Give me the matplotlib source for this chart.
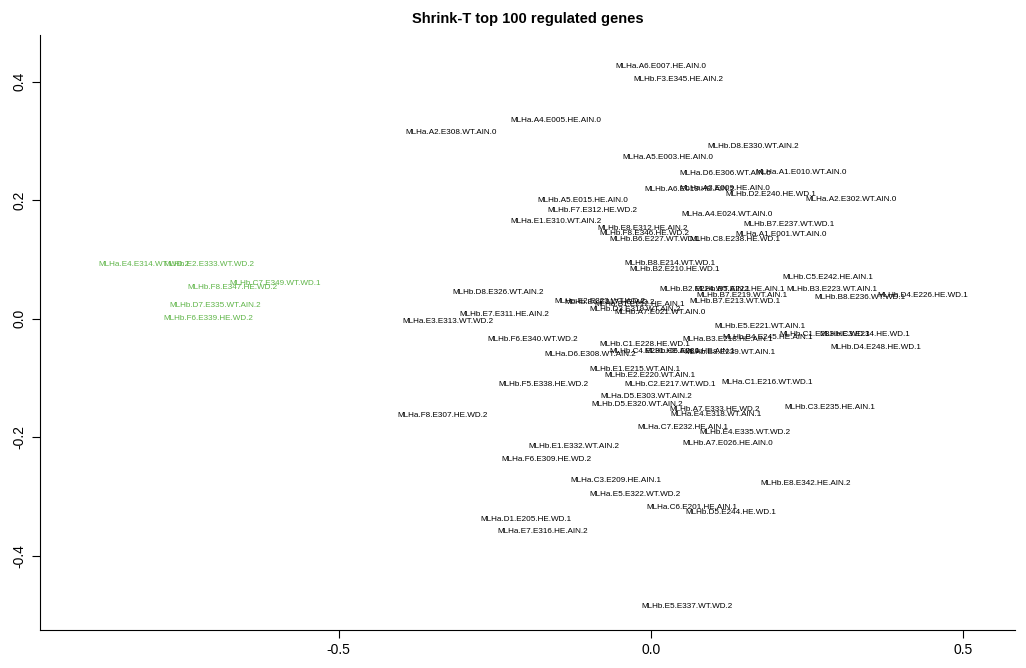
import matplotlib
matplotlib.use("Agg")
import matplotlib.pyplot as plt

plt.rcParams['font.family'] = ['Liberation Sans', 'DejaVu Sans']
plt.rcParams['axes.unicode_minus'] = False

# Gene labels and their positions (black = main cluster)
genes = [
    "MLHa.A6.E007.HE.AIN.0", "MLHb.F3.E345.HE.AIN.2", "MLHa.A4.E005.HE.AIN.0", "MLHa.A2.E308.WT.AIN.0",
    "MLHb.D8.E330.WT.AIN.2", "MLHa.A5.E003.HE.AIN.0", "MLHa.D6.E306.WT.AIN.0", "MLHa.A1.E010.WT.AIN.0",
    "MLHb.A6.E019.HE.AIN.2", "MLHa.A3.E009.HE.AIN.0", "MLHb.D2.E240.HE.WD.1", "MLHa.A2.E302.WT.AIN.0",
    "MLHb.A5.E015.HE.AIN.0", "MLHb.F7.E312.HE.WD.2", "MLHa.A4.E024.WT.AIN.0", "MLHa.E1.E310.WT.AIN.2",
    "MLHb.B7.E237.WT.WD.1", "MLHb.E8.E312.HE.AIN.2", "MLHb.F8.E346.HE.WD.2", "MLHa.A1.E001.WT.AIN.0",
    "MLHb.B6.E227.WT.WD.1", "MLHb.C8.E238.HE.WD.1", "MLHb.B8.E214.WT.WD.1", "MLHb.B2.E210.HE.WD.1",
    "MLHb.C5.E242.HE.AIN.1", "MLHb.B2.E224.WT.AIN.1", "MLHb.B5.E222.HE.AIN.1", "MLHb.B3.E223.WT.AIN.1",
    "MLHb.D4.E226.HE.WD.1", "MLHb.B8.E236.WT.WD.1", "MLHb.D8.E326.WT.AIN.2", "MLHb.B7.E219.WT.AIN.1",
    "MLHb.B7.E213.WT.WD.1", "MLHa.E2.E323.WT.WD.2", "MLHb.E6.E317.HE.WD.2", "MLHa.B1.E212.HE.AIN.1",
    "MLHb.D3.E319.WT.AIN.2", "MLHb.E7.E311.HE.AIN.2", "MLHa.E3.E313.WT.WD.2", "MLHb.A7.E021.WT.AIN.0",
    "MLHb.E5.E221.WT.AIN.1", "MLHb.C1.E233.HE.WD.1", "MLHb.C3.E234.HE.WD.1", "MLHa.B3.E218.HE.AIN.1",
    "MLHb.B4.E245.HE.AIN.1", "MLHb.D4.E248.HE.WD.1", "MLHb.F6.E340.WT.WD.2", "MLHb.C1.E228.HE.WD.1",
    "MLHa.D6.E308.WT.AIN.2", "MLHb.C4.E231.HE.AIN.1", "MLHb.B8.E239.WT.AIN.1", "MLHb.C6.E230.HE.AIN.1",
    "MLHb.E1.E215.WT.AIN.1", "MLHb.E2.E220.WT.AIN.1", "MLHb.C2.E217.WT.WD.1", "MLHa.C1.E216.WT.WD.1",
    "MLHb.F5.E338.HE.WD.2", "MLHa.D5.E303.WT.AIN.2", "MLHb.D5.E320.WT.AIN.2", "MLHb.A7.E333.HE.WD.2",
    "MLHa.E4.E318.WT.AIN.1", "MLHb.C3.E235.HE.AIN.1", "MLHa.F8.E307.HE.WD.2", "MLHa.C7.E232.HE.AIN.1",
    "MLHb.E4.E335.WT.WD.2", "MLHb.E1.E332.WT.AIN.2", "MLHb.A7.E026.HE.AIN.0", "MLHa.F6.E309.HE.WD.2",
    "MLHa.C3.E209.HE.AIN.1", "MLHb.E8.E342.HE.AIN.2", "MLHa.E5.E322.WT.WD.2", "MLHa.C6.E201.HE.AIN.1",
    "MLHb.D5.E244.HE.WD.1", "MLHa.D1.E205.HE.WD.1", "MLHa.E7.E316.HE.AIN.2", "MLHb.E5.E337.WT.WD.2",
]
gx = [0.016, 0.043, -0.152, -0.320, 0.163, 0.027, 0.118, 0.240,
      0.062, 0.118, 0.192, 0.320, -0.110, -0.094, 0.122, -0.152,
      0.221, -0.014, -0.010, 0.208, 0.006, 0.134, 0.030, 0.037,
      0.283, 0.086, 0.142, 0.290, 0.435, 0.334, -0.245, 0.146,
      0.134, -0.082, -0.066, -0.018, -0.026, -0.235, -0.325, 0.014,
      0.174, 0.278, 0.342, 0.123, 0.187, 0.360, -0.190, -0.010,
      -0.098, 0.006, 0.126, 0.062, -0.026, -0.002, 0.030, 0.186,
      -0.173, -0.008, -0.022, 0.102, 0.104, 0.286, -0.334, 0.051,
      0.150, -0.123, 0.123, -0.168, -0.056, 0.248, -0.026, 0.066,
      0.128, -0.200, -0.174, 0.058]
gy = [0.425, 0.403, 0.334, 0.314, 0.290, 0.272, 0.245, 0.246,
      0.218, 0.219, 0.209, 0.201, 0.199, 0.182, 0.176, 0.164,
      0.159, 0.152, 0.143, 0.142, 0.133, 0.133, 0.093, 0.083,
      0.069, 0.049, 0.049, 0.049, 0.039, 0.035, 0.044, 0.039,
      0.029, 0.029, 0.027, 0.024, 0.015, 0.007, -0.005, 0.010,
      -0.014, -0.027, -0.027, -0.035, -0.032, -0.049, -0.035, -0.044,
      -0.061, -0.056, -0.057, -0.056, -0.086, -0.096, -0.111, -0.108,
      -0.111, -0.132, -0.145, -0.154, -0.162, -0.150, -0.164, -0.184,
      -0.192, -0.216, -0.211, -0.238, -0.273, -0.278, -0.297, -0.319,
      -0.327, -0.338, -0.359, -0.486]

# Outlying group shown in green
green_genes = ["MLHa.E4.E314.WT.WD.2", "MLHb.E2.E333.WT.WD.2", "MLHb.F8.E347.HE.WD.2",
               "MLHb.C7.E349.WT.WD.1", "MLHb.D7.E335.WT.AIN.2", "MLHb.F6.E339.HE.WD.2"]
green_x = [-0.811, -0.707, -0.670, -0.602, -0.698, -0.709]
green_y = [0.091, 0.091, 0.052, 0.059, 0.022, 0.000]

fig = plt.figure(figsize=(10.26, 6.68), dpi=100)
ax = fig.add_axes([0.039, 0.057, 0.950, 0.891])

for name, x, y in zip(genes, gx, gy):
    ax.text(x, y, name, fontsize=5.9, ha='center', va='center', color='black')
for name, x, y in zip(green_genes, green_x, green_y):
    ax.text(x, y, name, fontsize=5.9, ha='center', va='center', color='#5fb548')

ax.set_xlim(-0.978, 0.582)
ax.set_ylim(-0.525, 0.479)
ax.set_xticks([-0.5, 0.0, 0.5])
ax.set_yticks([-0.4, -0.2, 0.0, 0.2, 0.4])
ax.tick_params(labelsize=10, length=6)
plt.setp(ax.get_yticklabels(), rotation=90, va='center')
ax.spines['top'].set_visible(False)
ax.spines['right'].set_visible(False)

fig.text(0.514, 0.972, "Shrink-T top 100 regulated genes", ha='center', va='center',
         fontsize=10.5, fontweight='bold')

fig.savefig("out.png", dpi=100)
